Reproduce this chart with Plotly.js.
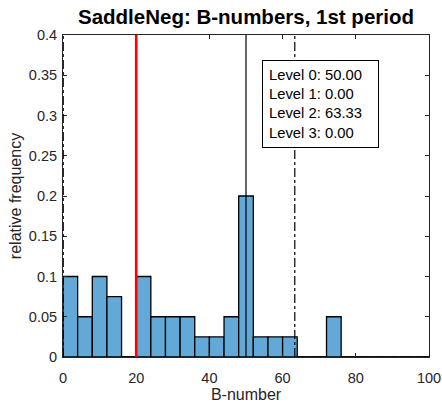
<!DOCTYPE html>
<html><head><meta charset="utf-8">
<script src="https://cdn.plot.ly/plotly-3.0.1.min.js"></script>
<style>html,body{margin:0;padding:0;background:#fff;}#chart{width:442px;height:404px;}</style>
</head><body><div id="chart"></div>
<script>
const binStart = 0;
const binWidth = 4;
const freq = [0.1,0.05,0.1,0.075,0,0.1,0.05,0.05,0.05,0.025,0.025,0.05,0.2,0.025,0.025,0.025,0,0,0.05,0,0,0,0,0,0];
const redLine = 20;
const levelNames = ["Level 0","Level 1","Level 2","Level 3"];
const levelValues = [50.00, 0.00, 63.33, 0.00];
const levelDash = ["solid","dashdot","dashdot","dashdot"];
const xTicks = [0,20,40,60,80,100];
const yTicks = [0,0.05,0.1,0.15,0.2,0.25,0.3,0.35,0.4];
const yTickLabels = ['0','0.05','0.1','0.15','0.2','0.25','0.3','0.35','0.4'];
const chartTitle = 'SaddleNeg: B-numbers, 1st period';

const centers = freq.map((v,i)=>binStart+binWidth*(i+0.5));
// zero-height bins drawn as a black edge
const zx=[], zy=[];
freq.forEach((v,i)=>{ if(v===0){ zx.push(binStart+binWidth*i, binStart+binWidth*(i+1), null); zy.push(0,0,null);} });

const FONT = 'Liberation Sans, Arial, Helvetica, sans-serif';

const traces = [
  {type:'bar', x:centers, y:freq, width:binWidth,
   marker:{color:'#63a9d7', line:{color:'#000', width:1.3}}, hoverinfo:'skip'},
  {type:'scatter', mode:'lines', x:zx, y:zy, line:{color:'#000', width:1.5}, hoverinfo:'skip', cliponaxis:false}
];

const shapes = [{type:'line', xref:'x', yref:'paper', x0:redLine, x1:redLine, y0:0, y1:1, line:{color:'#ff0000', width:2.6}}];
levelValues.forEach((v,i)=>{
  shapes.push({type:'line', xref:'x', yref:'paper', x0:v, x1:v, y0:0, y1:1, line:{color:'#000', width:1.2, dash:levelDash[i]}});
});

const boxText = levelNames.map((n,i)=>n+': '+levelValues[i].toFixed(2)).join('<br>');

const axCommon = {showgrid:false, zeroline:false, showline:true, linecolor:'#262626', linewidth:1,
  mirror:'allticks', ticks:'inside', ticklen:4, tickcolor:'#262626',
  tickfont:{family:FONT, size:14.5, color:'#262626'}};

const layout = {
  width:442, height:404, margin:{l:63, r:13, t:35, b:47},
  paper_bgcolor:'#fff', plot_bgcolor:'#fff', showlegend:false, bargap:0,
  title:{text:'<b>'+chartTitle+'</b>', font:{family:FONT, size:20.5, color:'#000'},
    x:0.5, xanchor:'center', xref:'paper', yref:'container', y:1-17/404, yanchor:'middle'},
  xaxis:Object.assign({}, axCommon, {range:[0,100], tickvals:xTicks, ticklabelstandoff:8,
    title:{text:'B-number', font:{family:FONT, size:16, color:'#262626'}, standoff:3}}),
  yaxis:Object.assign({}, axCommon, {range:[0,0.4], tickvals:yTicks, ticktext:yTickLabels, ticklabelstandoff:2,
    title:{text:'relative frequency', font:{family:FONT, size:16, color:'#262626'}, standoff:3}}),
  shapes:shapes,
  annotations:[
    {xref:'x', yref:'y', x:54.4, y:0.3685, xanchor:'left', yanchor:'top', showarrow:false,
    text:boxText, align:'left', width:103, bgcolor:'#fff', bordercolor:'#000', borderwidth:1, borderpad:6,
    font:{family:FONT, size:14.8, color:'#000'}}]
};
Plotly.newPlot('chart', traces, layout, {displayModeBar:false, staticPlot:true});
</script></body></html>
